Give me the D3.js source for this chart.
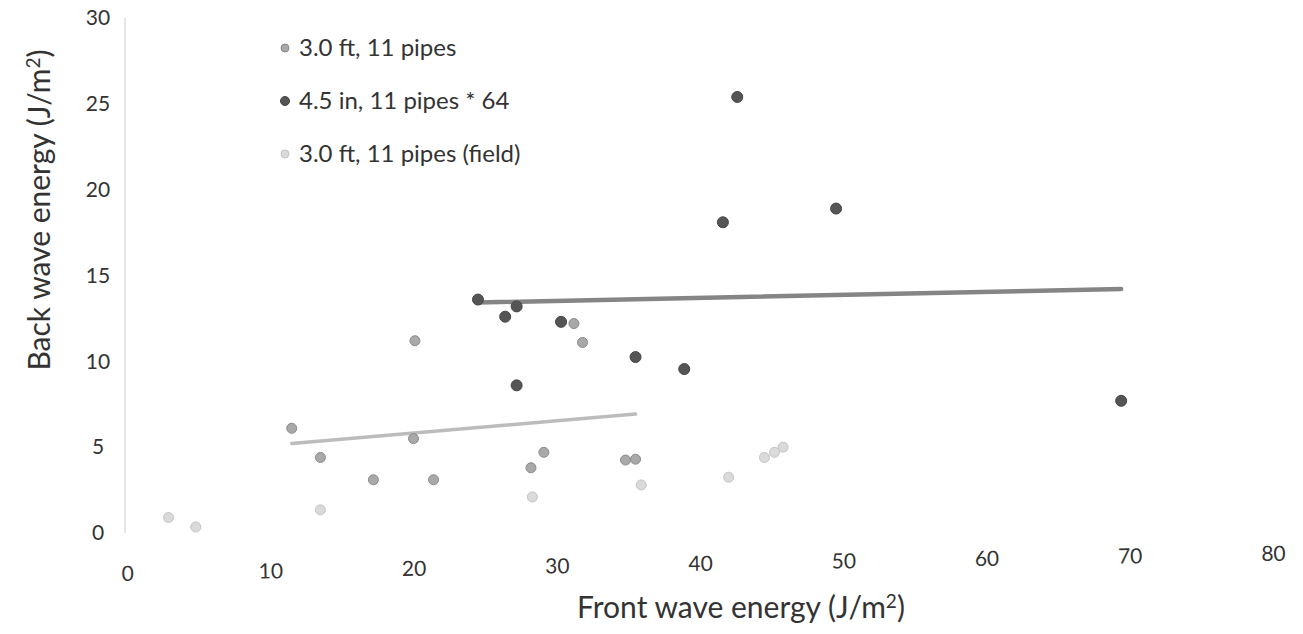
<!DOCTYPE html>
<html>
<head>
<meta charset="utf-8">
<script src="https://cdn.jsdelivr.net/npm/d3@7"></script>
<style>
  body { margin: 0; background: #fff; }
  svg text { font-family: Lato, "Open Sans", sans-serif; fill: #333; }
</style>
</head>
<body>
<svg id="chart"></svg>
<script>
// series: 3.0 ft, 11 pipes
const pipes30X = [11.5, 13.5, 17.2, 20.0, 20.1, 21.4, 28.2, 29.1, 31.2, 31.8, 34.8, 35.5];
const pipes30Y = [6.1, 4.4, 3.1, 5.5, 11.2, 3.1, 3.8, 4.7, 12.2, 11.1, 4.25, 4.3];
// series: 4.5 in, 11 pipes * 64
const pipes45X = [24.5, 26.4, 27.2, 27.2, 30.3, 35.5, 38.9, 41.6, 42.6, 49.5, 69.4];
const pipes45Y = [13.6, 12.6, 13.2, 8.6, 12.3, 10.25, 9.55, 18.1, 25.4, 18.9, 7.7];
// series: 3.0 ft, 11 pipes (field)
const fieldX = [2.9, 4.8, 13.5, 28.3, 35.9, 42.0, 44.5, 45.2, 45.8];
const fieldY = [0.9, 0.35, 1.35, 2.1, 2.8, 3.25, 4.4, 4.7, 5.0];

const legendNames = ["3.0 ft, 11 pipes", "4.5 in, 11 pipes * 64", "3.0 ft, 11 pipes (field)"];
const xTicks = [0, 10, 20, 30, 40, 50, 60, 70, 80];
const yTicks = [0, 5, 10, 15, 20, 25, 30];

const width = 1303, height = 634;

const svg = d3.select("#chart")
    .attr("width", width)
    .attr("height", height);

// scales
const x = d3.scaleLinear().domain([0, 80]).range([127, 1273]);
const y = d3.scaleLinear().domain([0, 30]).range([533, 18]);

// styles per series
const styles = [
    {fill: "#a9a9a9", stroke: "#8a8a8a", r: 5},
    {fill: "#555555", stroke: "#444444", r: 5.5},
    {fill: "#dadada", stroke: "#c4c4c4", r: 5}
];

const series = [
    {xs: pipes30X, ys: pipes30Y, trend: {color: "#bcbcbc", w: 3.5}},
    {xs: pipes45X, ys: pipes45Y, trend: {color: "#858585", w: 4.5}},
    {xs: fieldX, ys: fieldY, trend: null}
];

// vertical axis line
svg.append("line")
    .attr("x1", x(0) - 2).attr("x2", x(0) - 2)
    .attr("y1", y(30)).attr("y2", y(0))
    .attr("stroke", "#cccccc")
    .attr("stroke-width", 1);

// y axis labels
const yAxis = svg.append("g")
    .attr("transform", "translate(110,0)")
    .call(d3.axisLeft(y).tickValues(yTicks).tickSize(0).tickPadding(0));
yAxis.select(".domain").remove();
yAxis.selectAll("text")
    .attr("text-anchor", "middle")
    .attr("x", -12)
    .style("font-family", "Lato, sans-serif")
    .style("font-size", "21px")
    .style("fill", "#333");

// x axis labels (the scan is slightly tilted)
const xAxis = svg.append("g")
    .attr("transform", "translate(0,566) rotate(-1,127,0)")
    .call(d3.axisBottom(x).tickValues(xTicks).tickSize(0).tickPadding(0));
xAxis.select(".domain").remove();
xAxis.selectAll("text")
    .style("font-family", "Lato, sans-serif")
    .style("font-size", "21px")
    .style("fill", "#333");

// least squares trend line
function fit(xs, ys) {
    const mx = d3.mean(xs), my = d3.mean(ys);
    let sxy = 0, sxx = 0;
    xs.forEach((v, i) => {
        sxy += (v - mx) * (ys[i] - my);
        sxx += (v - mx) * (v - mx);
    });
    const b = sxy / sxx;
    return (v) => my + b * (v - mx);
}

series.forEach((s) => {
    if (!s.trend) return;
    const f = fit(s.xs, s.ys);
    const x0 = d3.min(s.xs), x1 = d3.max(s.xs);
    svg.append("line")
        .attr("x1", x(x0)).attr("y1", y(f(x0)))
        .attr("x2", x(x1)).attr("y2", y(f(x1)))
        .attr("stroke", s.trend.color)
        .attr("stroke-width", s.trend.w)
        .attr("stroke-linecap", "round");
});

// points
series.forEach((s, k) => {
    svg.append("g")
        .selectAll("circle")
        .data(s.xs.map((v, i) => [v, s.ys[i]]))
        .enter()
        .append("circle")
        .attr("cx", (d) => x(d[0]))
        .attr("cy", (d) => y(d[1]))
        .attr("r", styles[k].r)
        .attr("fill", styles[k].fill)
        .attr("stroke", styles[k].stroke)
        .attr("stroke-width", 1);
});

// legend
const legend = svg.append("g").attr("transform", "translate(285,48)");
legendNames.forEach((name, i) => {
    const row = legend.append("g").attr("transform", "translate(0," + (i * 53) + ")");
    row.append("circle")
        .attr("r", styles[i].r - 1)
        .attr("fill", styles[i].fill)
        .attr("stroke", styles[i].stroke);
    row.append("text")
        .attr("x", 14)
        .attr("dy", "0.35em")
        .style("font-size", "24px")
        .text(name);
});

// axis titles
svg.append("text")
    .attr("x", 741)
    .attr("y", 618)
    .attr("text-anchor", "middle")
    .style("font-size", "30px")
    .html("Front wave energy (J/m<tspan dy='-10' font-size='19px'>2</tspan><tspan dy='10'>)</tspan>");

svg.append("text")
    .attr("transform", "translate(50,210) rotate(-90)")
    .attr("text-anchor", "middle")
    .style("font-size", "30px")
    .html("Back wave energy (J/m<tspan dy='-10' font-size='19px'>2</tspan><tspan dy='10'>)</tspan>");
</script>
</body>
</html>
